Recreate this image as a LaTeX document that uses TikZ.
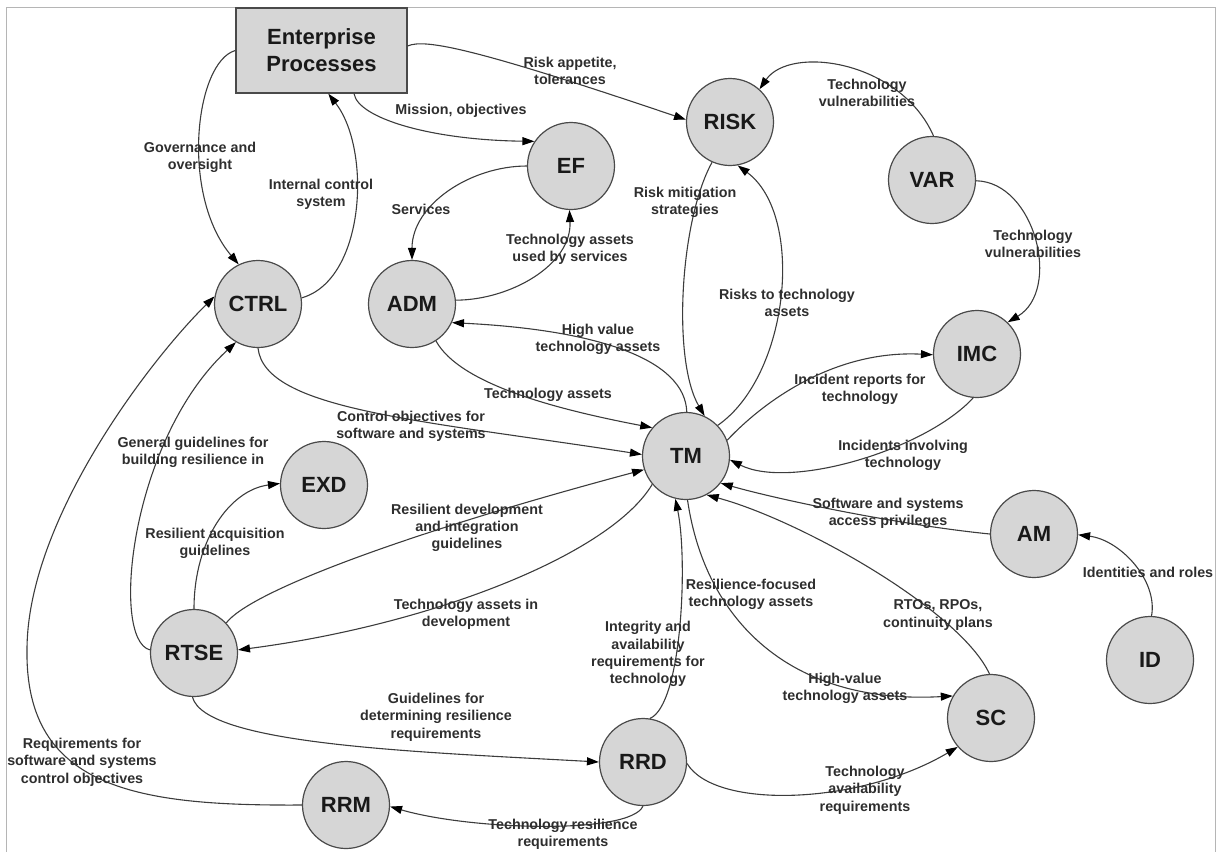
\documentclass[tikz,border=0pt]{standalone}
\usepackage{fontspec}
\setmainfont{Liberation Sans}
\usetikzlibrary{arrows.meta}
\definecolor{nodefill}{HTML}{D6D6D6}
\definecolor{nodeline}{HTML}{4A4A4A}
\definecolor{edgeline}{HTML}{3C3C3C}
\definecolor{labeltext}{HTML}{2E2E2E}
\definecolor{framegrey}{HTML}{B5B5B5}

\begin{document}
\begin{tikzpicture}[x=1pt,y=-1pt,
  proc/.style={circle, draw=nodeline, fill=nodefill, line width=1.2pt,
    minimum size=87pt, inner sep=0pt,
    font=\fontsize{22}{26}\selectfont\bfseries, text=black!90},
  ent/.style={rectangle, draw=nodeline, fill=nodefill, line width=1.4pt,
    minimum width=171pt, minimum height=85pt, align=center,
    font=\fontsize{22}{27}\selectfont\bfseries, text=black!90},
  flow/.style={draw=edgeline, line width=1.1pt,
    -{Triangle[length=12pt,width=8pt,color=black]}},
  lbl/.style={align=center, text=labeltext, inner sep=0pt,
    font=\fontsize{14.3}{17.3}\selectfont\bfseries},
]
\useasboundingbox (0,0) rectangle (1218,852);
\draw[framegrey, line width=1pt] (6,852) -- (6,7) -- (1215,7) -- (1215,852);

% processes
\node[ent]  (ep)   at (321.5,50.5) {Enterprise\\Processes};
\node[proc] (risk) at (730,122) {RISK};
\node[proc] (ef)   at (571,166) {EF};
\node[proc] (var)  at (932,180) {VAR};
\node[proc] (ctrl) at (258,304) {CTRL};
\node[proc] (adm)  at (412,304) {ADM};
\node[proc] (imc)  at (977,354) {IMC};
\node[proc] (tm)   at (686,456) {TM};
\node[proc] (exd)  at (324,485) {EXD};
\node[proc] (am)   at (1034,534) {AM};
\node[proc] (rtse) at (194,653) {RTSE};
\node[proc] (id)   at (1150,660) {ID};
\node[proc] (sc)   at (991,718) {SC};
\node[proc] (rrd)  at (643,762) {RRD};
\node[proc] (rrm)  at (346,805) {RRM};

% flows
\draw[flow] (ep.west) .. controls (195,62) and (180,195) .. (ctrl.116);
\draw[flow] (ctrl.8) .. controls (365,280) and (372,150) .. (ep.-81);
\draw[flow] (ep.-53) .. controls (358,118) and (430,140) .. (ef.146);
\draw[flow] (ep.3) .. controls (425,38) and (480,50) .. (risk.177);
\draw[flow] (var.88) .. controls (900,60) and (790,45) .. (risk.48);
\draw[flow] (var.-1) .. controls (1035,182) and (1062,290) .. (imc.46);
\draw[flow] (ef.180) .. controls (470,166) and (412,205) .. (adm.90);
\draw[flow] (adm.5) .. controls (510,300) and (572,265) .. (ef.-92);
\draw[flow] (risk.-114) .. controls (680,220) and (672,360) .. (tm.65);
\draw[flow] (tm.44) .. controls (790,375) and (805,215) .. (risk.-80);
\draw[flow] (tm.89) .. controls (685,360) and (600,330) .. (adm.-25);
\draw[flow] (adm.-57) .. controls (460,385) and (560,410) .. (tm.140);
\draw[flow] (ctrl.-90) .. controls (265,410) and (420,420) .. (tm.178);
\draw[flow] (rtse.176) .. controls (110,640) and (130,440) .. (ctrl.-120);
\draw[flow] (rrm.180) .. controls (140,806) and (25,790) .. (27,650)
  .. controls (27,520) and (150,360) .. (ctrl.170);
\draw[flow] (rtse.90) .. controls (194,540) and (230,490) .. (exd.178);
\draw[flow] (rtse.43) .. controls (250,592) and (400,535) .. (tm.198);
\draw[flow] (tm.220) .. controls (610,555) and (430,625) .. (rtse.4);
\draw[flow] (rtse.-92) .. controls (205,745) and (420,752) .. (rrd.180);
\draw[flow] (rrd.81) .. controls (682,705) and (688,560) .. (tm.-104);
\draw[flow] (tm.-88) .. controls (705,620) and (790,705) .. (sc.150);
\draw[flow] (sc.92) .. controls (960,610) and (800,520) .. (tm.-62);
\draw[flow] (am.180) .. controls (900,525) and (780,500) .. (tm.-38);
\draw[flow] (imc.-95) .. controls (925,450) and (790,490) .. (tm.-5);
\draw[flow] (tm.21) .. controls (770,395) and (840,350) .. (imc.181);
\draw[flow] (id.88) .. controls (1158,580) and (1120,540) .. (am.-1);
\draw[flow] (rrd.-90) .. controls (630,835) and (470,830) .. (rrm.-2);
\draw[flow] (rrd.-2) .. controls (715,810) and (860,805) .. (sc.-139);

% flow labels
\node[lbl] (l01) at (200,157) {Governance and\\oversight};
\node[lbl] (l02) at (321,194) {Internal control\\system};
\node[lbl] (l03) at (461,111) {Mission, objectives};
\node[lbl] (l04) at (570,71) {Risk appetite,\\tolerances};
\node[lbl] (l05) at (867,93) {Technology\\vulnerabilities};
\node[lbl] (l06) at (1033,244) {Technology\\vulnerabilities};
\node[lbl] (l07) at (421,209) {Services};
\node[lbl] (l08) at (570,249) {Technology assets\\used by services};
\node[lbl] (l09) at (685,202) {Risk mitigation\\strategies};
\node[lbl] (l10) at (787,303) {Risks to technology\\assets};
\node[lbl] (l11) at (598,339) {High value\\technology assets};
\node[lbl] (l12) at (548,395) {Technology assets};
\node[lbl] (l13) at (411,426) {Control objectives for\\software and systems};
\node[lbl] (l14) at (193,452) {General guidelines for\\building resilience in};
\node[lbl] (l15) at (82,762) {Requirements for\\software and systems\\control objectives};
\node[lbl] (l16) at (215,543) {Resilient acquisition\\guidelines};
\node[lbl] (l17) at (467,528) {Resilient development\\and integration\\guidelines};
\node[lbl] (l18) at (466,614) {Technology assets in\\development};
\node[lbl] (l19) at (436,717) {Guidelines for\\determining resilience\\requirements};
\node[lbl] (l20) at (648,654) {Integrity and\\availability\\requirements for\\technology};
\node[lbl] (l21) at (751,594) {Resilience-focused\\technology assets};
\node[lbl] (l22) at (845,688) {High-value\\technology assets};
\node[lbl] (l23) at (938,615) {RTOs, RPOs,\\continuity plans};
\node[lbl] (l24) at (888,513) {Software and systems\\access privileges};
\node[lbl] (l25) at (903,455) {Incidents involving\\technology};
\node[lbl] (l26) at (860,389) {Incident reports for\\technology};
\node[lbl] (l27) at (1148,572) {Identities and roles};
\node[lbl] (l28) at (563,834) {Technology resilience\\requirements};
\node[lbl] (l29) at (865,790) {Technology\\availability\\requirements};
\end{tikzpicture}
\end{document}
